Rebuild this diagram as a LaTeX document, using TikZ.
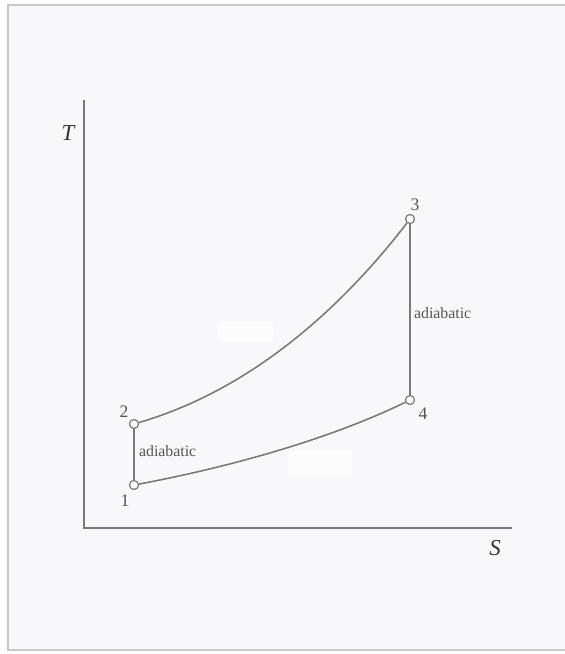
\documentclass[tikz,border=0pt]{standalone}
\usepackage{fontspec}
\setmainfont{Liberation Serif}
\usepackage{tikz}

\definecolor{framegray}{HTML}{C9C9CC}
\definecolor{panel}{HTML}{F8F8FA}
\definecolor{linegray}{HTML}{7A7A7A}
\definecolor{textgray}{HTML}{555555}

\begin{document}
\begin{tikzpicture}[x=0.02cm, y=-0.02cm,
    state/.style={circle, draw=linegray, fill=white, line width=0.7pt, inner sep=0pt, minimum size=0.18cm},
    curve/.style={draw=linegray, line width=0.9pt},
    lbl/.style={text=textgray, font=\fontsize{10}{10}\selectfont, inner sep=1pt}]
    \useasboundingbox (0,0) rectangle (565,654);

    % Panel
    \fill[white] (0,0) rectangle (565,654);
    \filldraw[fill=panel, draw=framegray, line width=1.2pt] (8,5) rectangle (575,650);

    % Erased patches
    \fill[white!60!panel] (217,322) rectangle (273,341);
    \fill[white!60!panel] (288,451) rectangle (352,476);

    % Axes
    \coordinate (O) at (84,528);
    \coordinate (Ttop) at (84,100);
    \coordinate (Send) at (512,528);
    \draw[linegray, line width=1.3pt] (Ttop) -- (O) -- (Send);
    \node[text=black!80, font=\fontsize{13}{13}\selectfont\itshape] (Tlab) at (68,133) {T};
    \node[text=black!80, font=\fontsize{13}{13}\selectfont\itshape] (Slab) at (495,548) {S};

    % States
    \node[state] (p1) at (134,485) {};
    \node[state] (p2) at (134,424) {};
    \node[state] (p3) at (410,219) {};
    \node[state] (p4) at (410,400) {};
    \foreach \n/\pos in {1/{125,501}, 2/{124,412}, 3/{415,205}, 4/{423,414}}
        \node[lbl] (n\n) at (\pos) {\n};

    % Processes
    \draw[curve] (p1) -- (p2);
    \draw[curve] (p2) .. controls (250,390) and (340,310) .. (p3);
    \draw[curve] (p3) -- (p4);
    \draw[curve] (p1) .. controls (230,467) and (330,439) .. (p4);
    \node[lbl, anchor=west, font=\fontsize{9}{9}\selectfont] (ad12) at (137,451) {adiabatic};
    \node[lbl, anchor=west, font=\fontsize{9}{9}\selectfont] (ad34) at (412,313) {adiabatic};
\end{tikzpicture}
\end{document}
